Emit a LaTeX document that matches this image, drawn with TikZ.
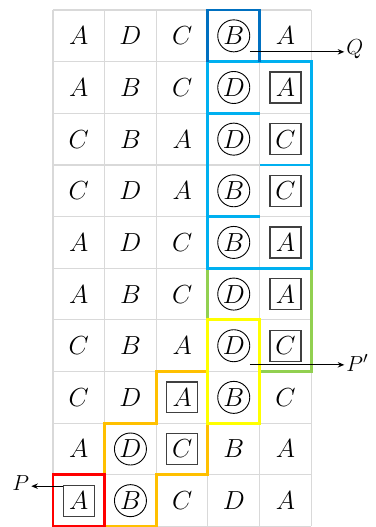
\documentclass[tikz,border=0pt]{standalone}
\usepackage{amsmath}
\usepackage{tikz}
\usetikzlibrary{arrows.meta, positioning}

\definecolor{gridgray}{HTML}{D9D9D9}
\definecolor{darkblue}{HTML}{0070C0}
\definecolor{lightblue}{HTML}{00B0F0}
\definecolor{leafgreen}{HTML}{92D050}
\definecolor{brightyellow}{HTML}{FFFF00}
\definecolor{amber}{HTML}{FFC000}
\definecolor{brightred}{HTML}{FF0000}

\begin{document}
\begin{tikzpicture}[
    >={Stealth[length=3.6pt, width=3pt]},
    gridline/.style={draw=gridgray, line width=0.6pt},
    frame/.style={line width=1.6pt, line join=miter},
    plain/.style={font=\fontsize{13.5}{15}\selectfont, inner sep=0pt},
    ringed/.style={plain, draw, circle, minimum size=0.62cm, line width=0.5pt},
    boxed/.style={plain, draw=black!75, minimum size=0.6cm, line width=0.7pt},
    lbl/.style={font=\fontsize{12.5}{14}\selectfont, inner sep=1pt},
]
\useasboundingbox (-1.026,-0.01) rectangle (6.254,10.194);
% ----- table
\draw[gridline] (0,0) grid (5,10);
% ----- coloured groups
\draw[frame, leafgreen] (3,5) -- (5,5) -- (5,3) -- (4,3) -- (4,4) -- (3,4) -- cycle;
\draw[frame, lightblue] (3,9) rectangle (5,5);
\draw[frame, lightblue] (3,8) -- (4,8) (4,7) -- (5,7) (3,6) -- (4,6);
\draw[frame, darkblue] (3,9) -- (3,10) -- (4,10) -- (4,9);
\draw[frame, amber] (2,3) -- (3,3) -- (3,1) -- (2,1) -- (2,0) -- (1,0) -- (1,2) -- (2,2) -- cycle;
\draw[frame, brightyellow] (3,2) rectangle (4,4);
\draw[frame, brightred] (0,0) rectangle (1,1);
% ----- letters
\foreach \row [count=\r] in {
    {A/plain,D/plain,C/plain,B/ringed,A/plain},
    {A/plain,B/plain,C/plain,D/ringed,A/boxed},
    {C/plain,B/plain,A/plain,D/ringed,C/boxed},
    {C/plain,D/plain,A/plain,B/ringed,C/boxed},
    {A/plain,D/plain,C/plain,B/ringed,A/boxed},
    {A/plain,B/plain,C/plain,D/ringed,A/boxed},
    {C/plain,B/plain,A/plain,D/ringed,C/boxed},
    {C/plain,D/plain,A/boxed,B/ringed,C/plain},
    {A/plain,D/ringed,C/boxed,B/plain,A/plain},
    {A/boxed,B/ringed,C/plain,D/plain,A/plain}}
  \foreach \l/\t [count=\c] in \row
    \node[\t] (L-\r-\c) at (\c-0.5,10.5-\r) {$\l$};
% ----- pointers
\coordinate (qs) at (3.81,9.19);
\node[lbl, anchor=west] (Q) at (5.64,9.25) {$Q$};
\draw[->, line width=0.6pt] (qs) -- (qs -| Q.west);
\coordinate (pps) at (3.81,3.13);
\node[lbl, anchor=west] (Pp) at (5.64,3.16) {$P'$};
\draw[->, line width=0.6pt] (pps) -- (pps -| Pp.west);
\coordinate (ps) at (0.19,0.78);
\node[lbl, anchor=east] (P) at (-0.42,0.84) {$P$};
\draw[->, line width=0.6pt] (ps) -- (ps -| P.east);
\end{tikzpicture}
\end{document}
